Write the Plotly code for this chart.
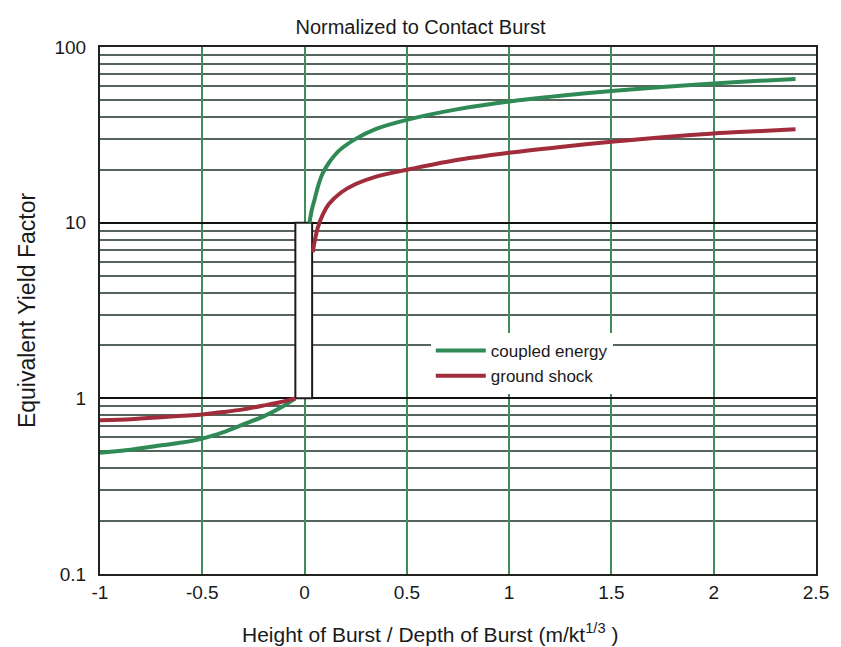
import plotly.graph_objects as go

# ---- data ----
x_ticks = [-1, -0.5, 0, 0.5, 1, 1.5, 2, 2.5]
x_tick_labels = ["-1", "-0.5", "0", "0.5", "1", "1.5", "2", "2.5"]
y_ticks = [0.1, 1, 10, 100]
y_tick_labels = ["0.1", "1", "10", "100"]

coupled_below_x = [-1, -0.85, -0.7, -0.6, -0.5, -0.4, -0.3, -0.2, -0.12, -0.045]
coupled_below_y = [0.49, 0.51, 0.54, 0.56, 0.59, 0.64, 0.71, 0.79, 0.88, 1.0]
coupled_above_x = [0.024, 0.035, 0.048, 0.065, 0.088, 0.12, 0.17, 0.25, 0.35, 0.5, 0.75, 1.0, 1.25, 1.5, 1.75, 2.0, 2.2, 2.4]
coupled_above_y = [10.0, 11.8, 13.4, 16.0, 19.0, 22.0, 25.8, 30.0, 34.2, 38.5, 44.3, 49.0, 52.8, 56.2, 59.2, 62.0, 64.0, 65.7]

shock_below_x = [-1, -0.85, -0.7, -0.6, -0.5, -0.4, -0.3, -0.2, -0.12, -0.045]
shock_below_y = [0.75, 0.76, 0.78, 0.795, 0.81, 0.835, 0.865, 0.91, 0.95, 1.0]
shock_above_x = [0.04, 0.05, 0.065, 0.09, 0.12, 0.18, 0.25, 0.35, 0.5, 0.73, 1.0, 1.25, 1.5, 1.75, 2.0, 2.2, 2.4]
shock_above_y = [6.8, 7.9, 9.4, 11.2, 12.8, 14.9, 16.6, 18.3, 20.0, 22.6, 25.0, 27.0, 28.9, 30.6, 32.2, 33.1, 34.0]

jump_x = [-0.045, 0.037]
jump_y = [1, 10]

GREEN = "#2f8a55"
RED = "#a02c3c"
FONT = "Liberation Sans, Arial, sans-serif"
TXT = "#1a1a1a"

minor_vals = [m * d for d in (0.1, 1, 10) for m in range(2, 10)]

fig = go.Figure()

# white box of the contact-burst jump
fig.add_trace(go.Scatter(
    x=[jump_x[0], jump_x[1], jump_x[1], jump_x[0], jump_x[0]],
    y=[jump_y[0], jump_y[0], jump_y[1], jump_y[1], jump_y[0]],
    mode="lines", fill="toself", fillcolor="white",
    line=dict(color="#1a1a1a", width=2), showlegend=False, hoverinfo="skip"))

fig.add_trace(go.Scatter(
    x=coupled_below_x + [None] + coupled_above_x,
    y=coupled_below_y + [None] + coupled_above_y,
    mode="lines", name="coupled energy",
    line=dict(color=GREEN, width=4, shape="spline", smoothing=0.8), connectgaps=False))

fig.add_trace(go.Scatter(
    x=shock_below_x + [None] + shock_above_x,
    y=shock_below_y + [None] + shock_above_y,
    mode="lines", name="ground shock",
    line=dict(color=RED, width=4, shape="spline", smoothing=0.8), connectgaps=False))

fig.update_layout(
    width=841, height=647,
    margin=dict(l=100, r=21, t=47, b=73),
    paper_bgcolor="white", plot_bgcolor="white",
    font=dict(family=FONT, color=TXT, size=19),
    title=dict(text="Normalized to Contact Burst", x=0.5, xanchor="center",
               y=1 - 27 / 647, yanchor="middle",
               font=dict(family=FONT, size=20, color=TXT)),
    legend=dict(x=0.462, y=(574 - 333) / 527, xanchor="left", yanchor="top",
                bgcolor="white", borderwidth=0,
                font=dict(family=FONT, size=17, color=TXT),
                itemwidth=50, tracegroupgap=0),
    showlegend=True,
    annotations=[dict(
        text="Height of Burst / Depth of Burst (m/kt<sup>1/3</sup> )",
        xref="paper", yref="paper", x=(432 - 100) / 720, y=-(633 - 574) / 527,
        xanchor="center", yanchor="middle", showarrow=False,
        font=dict(family=FONT, size=21, color=TXT))],
)

fig.update_xaxes(
    range=[-1, 2.5], tickvals=x_ticks, ticktext=x_tick_labels,
    showgrid=True, gridcolor="#3f8c5c", gridwidth=1.5,
    showline=True, linecolor="#222", linewidth=2, mirror=True,
    ticks="", zeroline=False,
    tickfont=dict(family=FONT, size=19, color=TXT),
)

fig.update_yaxes(
    type="log", range=[-1, 2], tickvals=y_ticks, ticktext=y_tick_labels,
    showgrid=True, gridcolor="#111", gridwidth=2,
    minor=dict(tickvals=minor_vals, showgrid=True, gridcolor="#56655b", gridwidth=1.5, ticks=""),
    showline=True, linecolor="#222", linewidth=2, mirror=True,
    ticks="", zeroline=False, ticklabelstandoff=8,
    tickfont=dict(family=FONT, size=19, color=TXT),
    title=dict(text="Equivalent Yield Factor", standoff=12,
               font=dict(family=FONT, size=23, color=TXT)),
)

fig.write_html("out.html")
